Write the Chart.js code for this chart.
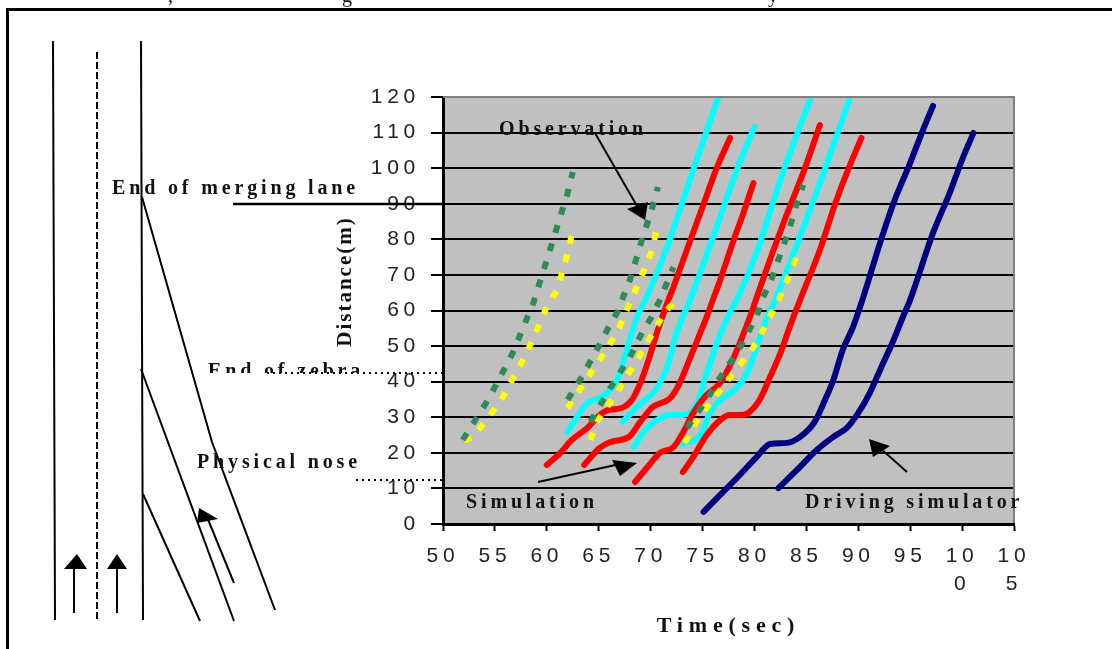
<!DOCTYPE html>
<html><head><meta charset="utf-8">
<script src="https://cdn.jsdelivr.net/npm/chart.js@4"></script>
<style>
html,body{margin:0;padding:0;background:#fff;overflow:hidden}
#wrap{position:relative;width:1112px;height:649px;overflow:hidden}
canvas{position:absolute;left:0;top:0}
svg{position:absolute;left:0;top:0}
.t{position:absolute;font:bold 20px "Liberation Serif",serif;color:#111;white-space:pre;line-height:20px;letter-spacing:3.85px}
</style></head><body>
<div id="wrap">
<canvas id="c" width="1112" height="649"></canvas>
<svg width="1112" height="649" viewBox="0 0 1112 649">
<g fill="none" stroke="#000" stroke-width="2">
<path d="M7.5 649V9.5H1112" stroke-width="3"/>
<path d="M53 41L55 620M141 41L143 620"/>
<path d="M97 52V622" stroke-dasharray="7 3"/>
<path d="M142 197L180 330L212 442L275 610M141 369L234 621M143 494L200 621"/>
<path d="M234 583L207 517M74 613V567M117 613V567"/>
<path d="M233 204H443" stroke-width="2.5"/>
<path d="M267 373H443M356 480H445" stroke-dasharray="2 4" stroke-width="2"/>
<path d="M595 133L641 213M538 482L620 464M907 472L880 448"/>
</g>
<g fill="#000">
<path d="M199 508L218 519L197 523Z"/>
<path d="M64 569L87 569L77 554Z"/>
<path d="M107 569L127 569L117 554Z"/>
<path d="M648 202L627 209L645 220Z"/>
<path d="M612 460L620 476L637 463Z"/>
<path d="M890 446L873 457L869 439Z"/>
</g>
</svg>
<div class="t" style="left:499px;top:118px">Observation</div>
<div class="t" style="left:466px;top:491px">Simulation</div>
<div class="t" style="left:805px;top:491px">Driving simulator</div>
<div class="t" style="left:112px;top:177px">End of merging lane</div>
<div class="t" style="left:208px;top:360px;height:13px;overflow:hidden">End of zebra</div>
<div class="t" style="left:197px;top:451px">Physical nose</div>
<div class="t" style="left:168px;top:-15px;font-weight:normal;letter-spacing:0">,</div>
<div class="t" style="left:342px;top:-15px;font-weight:normal;letter-spacing:0">g</div>
<div class="t" style="left:768px;top:-15px;font-weight:normal;letter-spacing:0">y</div>
</div>
<script>
const xTicks=[50,55,60,65,70,75,80,85,90,95,100,105];
const xTickLabels=[['50'],['55'],['60'],['65'],['70'],['75'],['80'],['85'],['90'],['95'],['10','0'],['10','5']];
const yTitle='Distance(m)';
const xTitle='Time(sec)';

const simulationA=[[60.0,16.6],[61.3,20],[62.4,23.6],[63.9,27],[65.1,30.6],[65.9,32],[67.2,32.6],[68.2,34.9],[69.0,39.6],[69.7,45.2],[70.6,53.7],[71.6,62.1],[72.2,66.6],[73.6,77.9],[75.0,89.1],[76.4,100.3],[77.65,108.5]];
const simulationB=[[63.6,16.6],[65.1,21.4],[66.1,23],[68.0,24.7],[69.0,28.7],[70.2,32.9],[71.9,35.4],[72.8,39.6],[73.6,45.2],[74.5,51.7],[75.4,58.2],[76.0,63],[76.7,68.6],[77.9,79],[78.8,86.3],[79.9,95.8]];
const simulationC=[[68.5,11.8],[69.7,16],[70.9,20],[72.2,21.6],[73.1,25.6],[74.1,31.2],[75.4,36.3],[76.7,39.6],[77.9,46.1],[78.6,50.9],[79.8,60.1],[80.8,68.6],[82.8,84.6],[84.9,100.3],[86.3,112.1]];
const simulationD=[[73.1,14.6],[74.1,18.8],[75.4,25],[76.7,29.2],[77.6,30.6],[78.6,30.6],[79.4,31.2],[80.5,34.9],[81.5,41.3],[82.5,48],[83.4,55.4],[84.4,63],[86.3,77],[87.8,90.2],[88.9,98.7],[90.3,108.5]];
const cyanA=[[62.0,25.9],[62.9,30],[63.9,34],[65.1,35.4],[66.1,37.7],[66.9,41.3],[67.7,48.9],[68.7,58.2],[69.5,63],[71.6,77.9],[74.1,99.5],[76.5,119.7]];
const cyanB=[[67.3,28.7],[68.7,32.9],[70.6,38.2],[71.6,44.1],[72.5,53.7],[73.8,63],[76.7,86.3],[78.3,99.5],[80,111.6]];
const cyanC=[[68.4,21.6],[69.3,25.9],[70.6,29.2],[71.9,30.6],[73.1,30.6],[74.5,34],[75.2,40.5],[76.4,50.9],[77.6,59.3],[78.3,63],[80.2,76.2],[82.5,96.7],[85.4,119.7]];
const cyanD=[[72.8,22.5],[74.8,25],[75.7,31.2],[76.7,34.9],[78.1,37.7],[79.1,41.3],[79.9,46.9],[81,56.5],[82,63],[83.9,77],[86.3,95.8],[89.2,119.7]];
const driverA=[[75.1,3.4],[76.7,8.2],[78.4,13.2],[80.2,18.8],[81.5,22.5],[83.1,22.8],[84.4,24.5],[85.8,28.7],[86.8,34.9],[87.6,40.5],[88.5,48.9],[89.5,55.4],[90.4,63],[92.1,79],[93.4,90.2],[95,101.5],[96.2,110.5],[97.2,117.5]];
const driverB=[[82.3,10.1],[84.1,15.2],[86,20.8],[87.6,24.5],[88.9,27],[90,31.2],[91.1,36.8],[92.1,43.3],[93.4,51.7],[94.3,58.2],[95,63],[97.2,81.8],[98.8,93],[100.1,103.1],[101.1,109.9]];
const observedGreenA=[[51.9,23.6],[54.5,35.7],[56.7,48],[58.7,62.1],[60.6,79.8],[62,93],[62.5,98.9]];
const observedGreenB=[[62,34.9],[63.2,40.5],[64.8,48.9],[65.9,55],[66.8,59.6],[68,68.6],[69.3,81.2],[70.1,88.3],[70.7,94.7]];
const observedGreenC=[[64.2,28.7],[66.1,38.2],[68,46.9],[69.3,54.5],[70.1,58.2],[70.9,63],[71.4,66.6],[72.2,72.2]];
const observedGreenD=[[73.5,27],[75.4,34.9],[76.7,41.3],[78.3,48],[79.4,54],[80.2,58.2],[80.7,63],[81.5,67.7],[83.4,83.2],[84,89.4],[84.7,95.3]];
const observedYellowA=[[52,23.4],[52.9,24.5],[55.5,34.3],[58.1,48.3],[60,61],[61,65.8],[62,76.2],[62.5,82.4]];
const observedYellowB=[[62,32.6],[62.7,35.7],[65.4,47.5],[66.8,54],[68,62.1],[69.3,70.8],[70.1,76.7],[70.6,82.9]];
const observedYellowC=[[64.2,23.6],[64.8,28.7],[66.8,37.1],[68.7,46.1],[70.1,53.1],[71.4,59.6],[72.2,62.1]];
const observedYellowD=[[73.3,22.8],[74.5,29.2],[76.7,37.7],[78.8,45.5],[80.2,50.9],[81.3,57.3],[82.2,62.1],[83.4,70.3],[84,74.8]];

const pts=a=>a.map(p=>({x:p[0],y:p[1]}));
const solid=(name,a,color,order)=>({label:name,data:pts(a),borderColor:color,backgroundColor:color,borderWidth:6,borderCapStyle:'round',borderJoinStyle:'round',pointRadius:0,showLine:true,cubicInterpolationMode:'monotone',order});
const dashed=(name,a,color,order)=>({label:name,data:pts(a),borderColor:color,backgroundColor:color,borderWidth:6,borderDash:[8,11],borderCapStyle:'butt',pointRadius:0,showLine:true,tension:0,order});

const tickSpacing='4.7px';
const plotDeco={id:'plotDeco',
 beforeDraw(ch){
  const c=ch.ctx,a=ch.chartArea;c.save();c.fillStyle='#c0c0c0';c.fillRect(a.left,a.top,a.right-a.left,a.bottom-a.top);c.restore();
  c.letterSpacing=tickSpacing;
  const wrap=(s,sp)=>{const orig=s.drawTitle;s.drawTitle=function(){c.letterSpacing=sp;orig.call(this);c.letterSpacing=tickSpacing;};};
  wrap(ch.scales.y,'2px');wrap(ch.scales.x,'5.8px');
 },
 afterDraw(ch){const c=ch.ctx,a=ch.chartArea;c.save();c.strokeStyle='#808080';c.lineWidth=2;c.beginPath();c.moveTo(a.left,a.top);c.lineTo(a.right,a.top);c.lineTo(a.right,a.bottom-1);c.stroke();c.restore();}
};
const fixSize={y:s=>{s.width=110},x:s=>{s.height=116}};

new Chart(document.getElementById('c'),{
 type:'scatter',
 data:{datasets:[
  dashed('Observation',observedGreenA,'#2e8b57',0),dashed('Observation',observedGreenB,'#2e8b57',0),dashed('Observation',observedGreenC,'#2e8b57',0),dashed('Observation',observedGreenD,'#2e8b57',0),
  dashed('Observation',observedYellowA,'#ffff00',1),dashed('Observation',observedYellowB,'#ffff00',1),dashed('Observation',observedYellowC,'#ffff00',1),dashed('Observation',observedYellowD,'#ffff00',1),
  solid('Simulation',cyanA,'#00ffff',3),solid('Simulation',cyanB,'#00ffff',3),solid('Simulation',cyanC,'#00ffff',3),solid('Simulation',cyanD,'#00ffff',3),
  solid('Simulation',simulationA,'#ff0000',2),solid('Simulation',simulationB,'#ff0000',2),solid('Simulation',simulationC,'#ff0000',2),solid('Simulation',simulationD,'#ff0000',2),
  solid('Driving simulator',driverA,'#000080',4),solid('Driving simulator',driverB,'#000080',4)
 ]},
 plugins:[plotDeco],
 options:{
  responsive:false,animation:false,
  layout:{padding:{left:333,top:97,right:98,bottom:9}},
  plugins:{legend:{display:false},tooltip:{enabled:false},title:{display:false}},
  scales:{
   x:{type:'linear',min:50,max:105,afterFit:fixSize.x,
    border:{color:'#000',width:3},
    grid:{drawOnChartArea:false,drawTicks:true,tickLength:7,tickColor:'#000',tickWidth:2},
    ticks:{stepSize:5,autoSkip:false,maxRotation:0,minRotation:0,padding:11,color:'#222',
     font:{family:'"Liberation Sans",Arial,sans-serif',size:21,lineHeight:1.33},
     callback:v=>xTickLabels[xTicks.indexOf(v)]},
    title:{display:true,text:xTitle,color:'#111',font:{family:'"Liberation Serif",serif',size:22,weight:'bold'},padding:0}
   },
   y:{type:'linear',min:0,max:120,afterFit:fixSize.y,
    border:{color:'#000',width:3},
    grid:{color:c=>c.tick&&(c.tick.value===120)?'#808080':'#000',lineWidth:2,drawTicks:true,tickLength:12,tickColor:'#000',tickWidth:2},
    ticks:{stepSize:10,padding:11,color:'#222',font:{family:'"Liberation Sans",Arial,sans-serif',size:21}},
    title:{display:true,text:'        '+yTitle,color:'#111',font:{family:'"Liberation Serif",serif',size:21,weight:'bold'},padding:0}
   }
  }
 }
});
</script>
</body></html>
